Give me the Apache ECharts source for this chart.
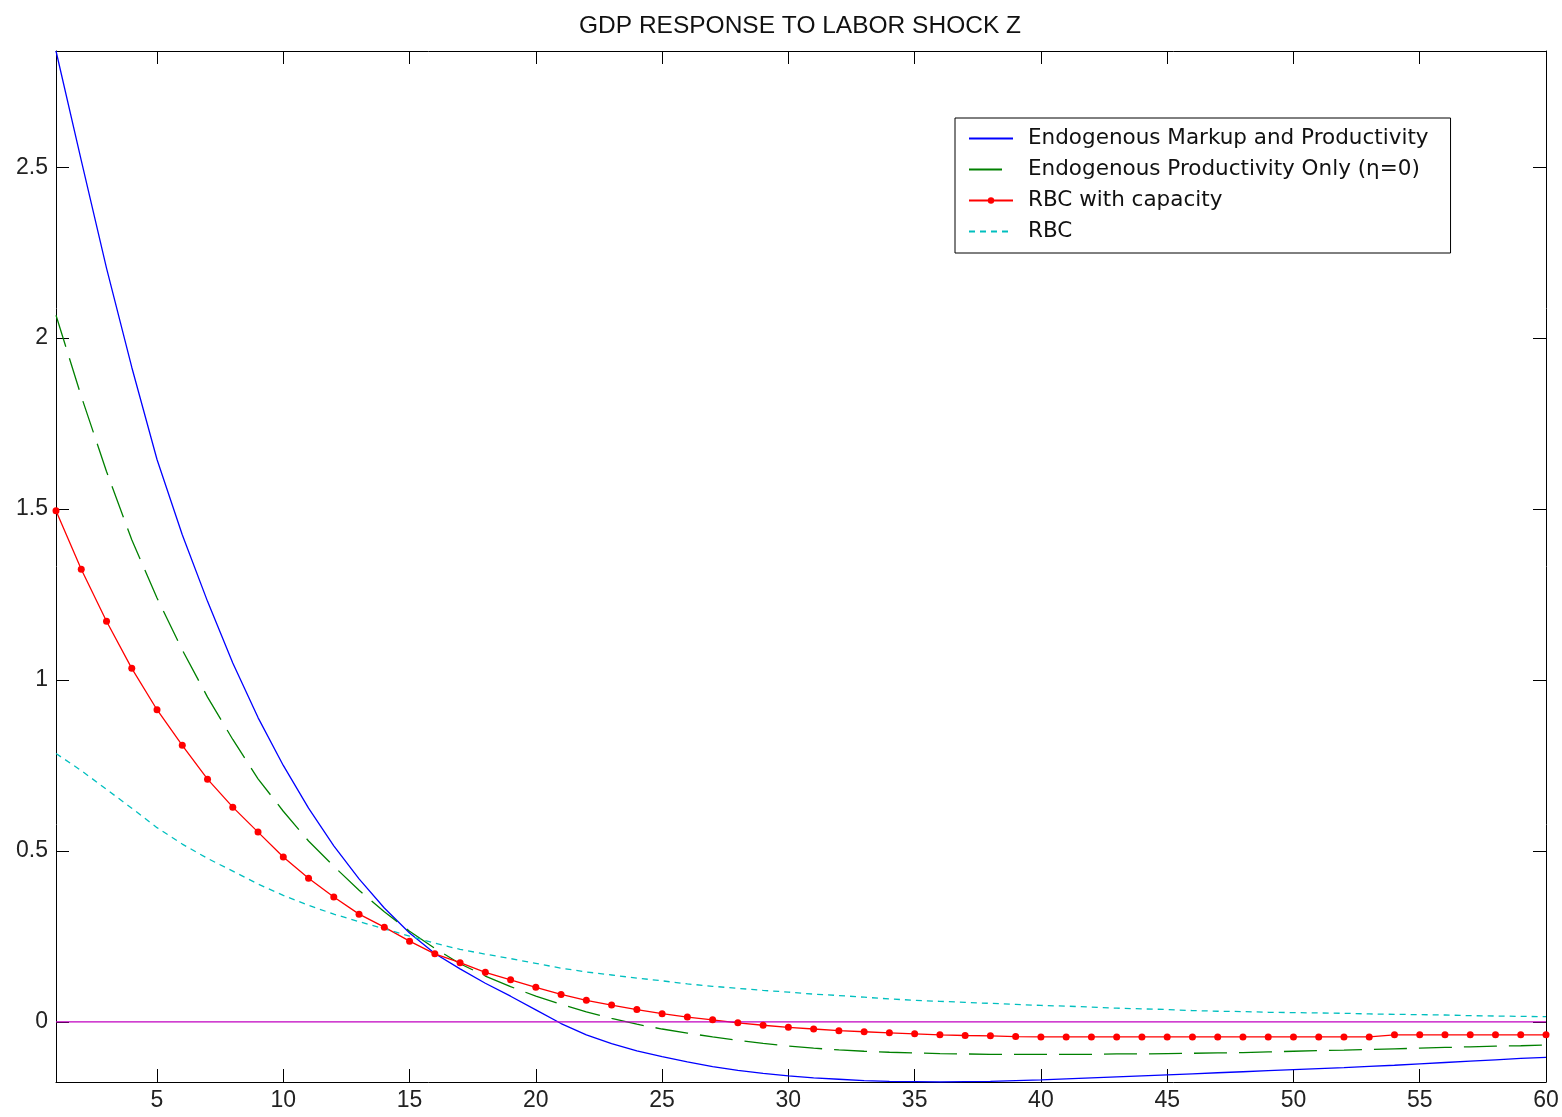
<!DOCTYPE html>
<html>
<head>
<meta charset="utf-8">
<title>GDP response to labor shock Z</title>
<script src="https://cdn.jsdelivr.net/npm/echarts@6/dist/echarts.min.js"></script>
<style>
  html, body { margin: 0; padding: 0; background: #fff; }
  #chart { width: 1562px; height: 1117px; }
</style>
</head>
<body>
<div id="chart"></div>
<script>
// Periods after the shock
const periods = [1,2,3,4,5,6,7,8,9,10,11,12,13,14,15,16,17,18,19,20,
  21,22,23,24,25,26,27,28,29,30,31,32,33,34,35,36,37,38,39,40,
  41,42,43,44,45,46,47,48,49,50,51,52,53,54,55,56,57,58,59,60];

// Endogenous markup and productivity
const markupProd = [2.84,2.52,2.205,1.915,1.645,1.425,1.23,1.05,0.89,0.75,
  0.625,0.515,0.418,0.333,0.26,0.20,0.155,0.113,0.075,0.035,
  -0.005,-0.038,-0.064,-0.085,-0.102,-0.117,-0.131,-0.142,-0.151,-0.158,
  -0.164,-0.168,-0.172,-0.174,-0.175,-0.176,-0.175,-0.174,-0.172,-0.170,
  -0.167,-0.164,-0.161,-0.158,-0.155,-0.152,-0.149,-0.146,-0.143,-0.140,
  -0.137,-0.134,-0.130,-0.127,-0.123,-0.119,-0.115,-0.111,-0.107,-0.104];

// Endogenous productivity only (eta = 0)
const prodOnly = [2.067,1.83,1.61,1.41,1.24,1.088,0.95,0.826,0.711,0.616,
  0.529,0.455,0.385,0.322,0.265,0.215,0.17,0.134,0.103,0.075,
  0.051,0.029,0.01,-0.007,-0.021,-0.033,-0.044,-0.054,-0.063,-0.071,
  -0.077,-0.082,-0.086,-0.089,-0.091,-0.093,-0.094,-0.095,-0.095,-0.095,
  -0.095,-0.095,-0.094,-0.094,-0.093,-0.092,-0.091,-0.090,-0.088,-0.086,
  -0.084,-0.083,-0.081,-0.079,-0.077,-0.075,-0.073,-0.071,-0.070,-0.068];

// RBC with capacity utilisation
const rbcCapacity = [1.495,1.324,1.172,1.034,0.913,0.809,0.71,0.628,0.555,0.482,
  0.42,0.365,0.315,0.277,0.236,0.199,0.173,0.145,0.123,0.101,
  0.08,0.063,0.049,0.036,0.024,0.014,0.006,-0.003,-0.01,-0.016,
  -0.021,-0.026,-0.029,-0.032,-0.035,-0.038,-0.040,-0.041,-0.043,-0.044,
  -0.044,-0.044,-0.044,-0.044,-0.044,-0.044,-0.044,-0.044,-0.044,-0.044,
  -0.044,-0.044,-0.044,-0.038,-0.038,-0.038,-0.038,-0.038,-0.038,-0.038];

// Standard RBC
const rbc = [0.785,0.735,0.68,0.625,0.568,0.52,0.478,0.441,0.403,0.37,
  0.341,0.315,0.293,0.272,0.251,0.23,0.212,0.198,0.185,0.171,
  0.157,0.146,0.137,0.128,0.12,0.111,0.104,0.098,0.092,0.087,
  0.081,0.077,0.072,0.067,0.063,0.06,0.057,0.054,0.051,0.048,
  0.046,0.043,0.040,0.038,0.036,0.033,0.031,0.030,0.028,0.027,
  0.026,0.025,0.023,0.022,0.021,0.020,0.018,0.017,0.016,0.015];

// Reference line at zero
const zeroLine = [0, 0];
const zeroPeriods = [1, 60];

const xTicks = [5,10,15,20,25,30,35,40,45,50,55,60];
const yTicks = [0,0.5,1,1.5,2,2.5];

const seriesNames = [
  'Endogenous Markup and Productivity',
  'Endogenous Productivity Only (\u03b7=0)',
  'RBC with capacity',
  'RBC'
];

const pairs = (xs, ys) => xs.map((x, i) => [x, ys[i]]);

const SANS = '"Liberation Sans", Arial, sans-serif';
const WIDE = '"DejaVu Sans", "Liberation Sans", sans-serif';
const axisColor = '#000';

const boxAxis = (extra) => Object.assign({
  type: 'value',
  axisLine: { show: true, onZero: false, lineStyle: { color: axisColor, width: 1 } },
  splitLine: { show: false }
}, extra);

const chart = echarts.init(document.getElementById('chart'), null, { renderer: 'canvas' });

chart.setOption({
  animation: false,
  backgroundColor: '#fff',
  title: {
    text: 'GDP RESPONSE TO LABOR SHOCK Z',
    left: 795,
    textAlign: 'center',
    top: 9,
    textStyle: { fontFamily: SANS, fontSize: 24.5, fontWeight: 'normal', color: '#111' }
  },
  grid: { left: 56, right: 16, top: 51, bottom: 35, containLabel: false },
  legend: {
    // line-only entries hide the marker that the legend icon adds by default
    data: [
      { name: seriesNames[0], itemStyle: { opacity: 0 } },
      { name: seriesNames[1], itemStyle: { opacity: 0 } },
      { name: seriesNames[2] },
      { name: seriesNames[3], itemStyle: { opacity: 0 } }
    ],
    orient: 'vertical',
    left: 955,
    top: 118,
    itemWidth: 44,
    itemHeight: 8,
    itemGap: 8,
    padding: [9, 22, 10, 13],
    borderColor: '#000',
    borderWidth: 1,
    borderRadius: 0,
    backgroundColor: '#fff',
    selectedMode: false,
    textStyle: { fontFamily: WIDE, fontSize: 21.5, lineHeight: 23, color: '#111', padding: [0, 0, 0, 10] }
  },
  xAxis: [
    boxAxis({
      min: 1, max: 60, position: 'bottom',
      axisTick: { show: true, inside: true, length: 13, customValues: xTicks, lineStyle: { color: axisColor } },
      axisLabel: { show: true, customValues: xTicks, margin: 7, fontFamily: SANS, fontSize: 23, color: '#222' }
    }),
    boxAxis({
      min: 1, max: 60, position: 'top',
      axisTick: { show: true, inside: true, length: 13, customValues: xTicks, lineStyle: { color: axisColor } },
      axisLabel: { show: false }
    })
  ],
  yAxis: [
    boxAxis({
      min: -0.176, max: 2.84, position: 'left',
      axisTick: { show: true, inside: true, length: 13, customValues: yTicks, lineStyle: { color: axisColor } },
      axisLabel: { show: true, customValues: yTicks, margin: 8, fontFamily: SANS, fontSize: 23, color: '#222' }
    }),
    boxAxis({
      min: -0.176, max: 2.84, position: 'right',
      axisTick: { show: true, inside: true, length: 13, customValues: yTicks, lineStyle: { color: axisColor } },
      axisLabel: { show: false }
    })
  ],
  series: [
    {
      name: seriesNames[0], type: 'line', data: pairs(periods, markupProd),
      symbol: 'none', color: '#0000ff',
      lineStyle: { color: '#0000ff', width: 1.3 }
    },
    {
      name: seriesNames[1], type: 'line', data: pairs(periods, prodOnly),
      symbol: 'none', color: '#008000',
      lineStyle: { color: '#008000', width: 1.3, type: [33, 12] }
    },
    {
      name: seriesNames[2], type: 'line', data: pairs(periods, rbcCapacity),
      symbol: 'circle', symbolSize: 7, showSymbol: true, color: '#ff0000',
      itemStyle: { color: '#ff0000' },
      lineStyle: { color: '#ff0000', width: 1.3 }
    },
    {
      name: seriesNames[3], type: 'line', data: pairs(periods, rbc),
      symbol: 'none', color: '#00bfbf',
      lineStyle: { color: '#00bfbf', width: 1.3, type: [6, 5] }
    },
    {
      name: 'zero', type: 'line', data: pairs(zeroPeriods, zeroLine),
      symbol: 'none', color: '#c000c0',
      lineStyle: { color: '#c000c0', width: 1.3 },
      silent: true
    }
  ]
});
</script>
</body>
</html>
